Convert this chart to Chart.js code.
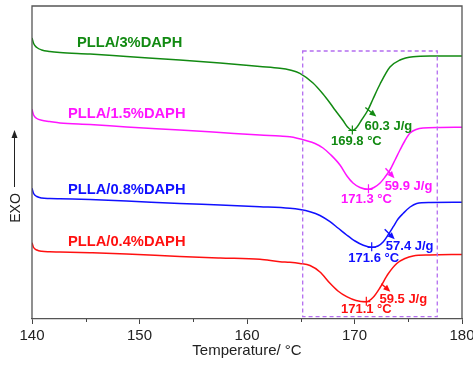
<!DOCTYPE html>
<html>
<head>
<meta charset="utf-8">
<script src="https://cdn.jsdelivr.net/npm/chart.js@4/dist/chart.umd.min.js"></script>
<style>
  html, body { margin: 0; padding: 0; background: #ffffff; }
  #wrap { width: 473px; height: 365px; }
</style>
</head>
<body>
<div id="wrap"><canvas id="dscChart" width="473" height="365"></canvas></div>
<script>
/* ---------------------------------------------------------
   Data (heat flow in arbitrary units)
--------------------------------------------------------- */
const seriesNames = ["PLLA/3%DAPH", "PLLA/1.5%DAPH", "PLLA/0.8%DAPH", "PLLA/0.4%DAPH"];
const seriesColors = ["#128a12", "#ff14ff", "#1010ff", "#ff1010"];

const temp3 = [140.0, 140.15, 140.45, 140.9, 141.65, 142.6, 145.4, 148.8, 153.75, 157.5, 161.2, 163.06, 163.99, 164.92, 166.14, 167.07, 167.72, 168.19, 168.93, 169.35, 169.8, 170.2, 170.6, 171.25, 171.72, 172.38, 173.3, 174.23, 175.45, 177.03, 180.0];
const heat3 = [281, 275.5, 271.5, 269, 267.5, 266.5, 265, 262.5, 259, 256, 252.5, 250.7, 249, 245.7, 236, 225, 216, 209, 198.5, 192, 188.5, 191.5, 198, 209, 220, 235, 252, 259, 262.3, 263, 263];

const temp15 = [140.0, 140.15, 140.45, 140.9, 141.65, 142.6, 145.4, 148.8, 153.75, 157.5, 161.2, 163.06, 163.99, 165.55, 166.33, 167.07, 167.81, 168.65, 169.3, 169.86, 170.51, 171.3, 171.81, 172.38, 172.84, 173.3, 173.77, 174.23, 174.7, 175.17, 175.73, 176.38, 177.96, 180.0];
const heat15 = [209.7, 204, 200.5, 198.7, 197.5, 196, 194.5, 192, 189, 186.5, 184, 183, 182.3, 178.3, 175.5, 171, 164, 154, 143, 136, 131.5, 129.7, 131.5, 136, 142, 149, 159, 169, 178.5, 186, 189.5, 191, 191.5, 191.7];

const temp08 = [140.0, 140.15, 140.45, 140.9, 141.65, 142.6, 145.4, 148.8, 153.75, 157.5, 161.2, 163.99, 164.92, 165.86, 166.79, 167.72, 168.46, 169.27, 170.05, 170.82, 171.6, 172.18, 172.68, 173.12, 173.61, 174.05, 174.54, 175.17, 175.79, 177.03, 180.0];
const heat08 = [130.7, 125.5, 122.5, 121, 120.5, 120.2, 119.5, 118, 115.5, 114, 112.3, 110.7, 109.5, 107.3, 103.5, 97.3, 91, 84, 78, 73.7, 71.7, 73, 77.3, 84, 92.3, 100, 105.7, 112, 115.5, 116.5, 116.7];

const temp04 = [140.0, 140.15, 140.45, 140.9, 141.65, 142.6, 145.4, 148.8, 153.75, 157.5, 161.2, 163.06, 163.99, 164.92, 165.86, 166.79, 167.72, 168.46, 169.27, 170.14, 171.1, 171.72, 172.38, 173.12, 173.93, 174.7, 175.45, 177.03, 180.0];
const heat04 = [76.3, 71.5, 69, 67.7, 67.2, 67, 66.2, 65, 62.5, 61, 59.7, 57.3, 56.7, 55.5, 53.5, 47, 35.7, 28, 22.3, 18.5, 17.3, 21.5, 31.5, 45, 55.5, 60.5, 63, 64, 64.5];

// peak temperature, peak value, enthalpy label
const peakTemps = [169.8, 171.3, 171.6, 171.1];
const peakHeats = [188.5, 129.7, 71.7, 17.3];
const enthalpyLabels = ["60.3 J/g", "59.9 J/g", "57.4 J/g", "59.5 J/g"];

// dashed box around the melting region
const boxTemps = [165.18, 177.7];
const boxHeats = [2.3, 268];

const xTicks = [140, 150, 160, 170, 180];
const xMinorTicks = [145, 155, 165, 175];

/* ---------------------------------------------------------
   Layout tweaks for annotations (pixel offsets from the peak)
--------------------------------------------------------- */
const labelSpots = [
  { left: 77, y: 42.7 },
  { left: 68, y: 113.5 },
  { left: 68, y: 190 },
  { left: 68, y: 241.7 },
];
const enthalpyOffsets = [[36, -4], [40, -3], [38, -1], [37, -2]];
const tempOffsets = [[4, 11], [-2, 10], [2, 11], [0, 8]];
const arrowOffsets = [[13, -23, 24, -14], [17, -21, 26, -11], [13, -18, 23, -8], [15, -18, 24, -10]];

const FONT = "'Liberation Sans', Arial, sans-serif";

const temps = [temp3, temp15, temp08, temp04];
const heats = [heat3, heat15, heat08, heat04];

const datasets = seriesNames.map((name, i) => ({
  label: name,
  data: temps[i].map((t, k) => ({ x: t, y: heats[i][k] })),
  borderColor: seriesColors[i],
  borderWidth: 1.5,
  pointRadius: 0,
  cubicInterpolationMode: "monotone",
  fill: false,
}));

/* ---------------------------------------------------------
   Plugin: frame, tick labels, box, labels, peak marks, arrows
--------------------------------------------------------- */
const dscDecor = {
  id: "dscDecor",
  afterDatasetsDraw(chart) {
    const { ctx, chartArea: a, scales: { x, y } } = chart;
    ctx.save();

    // frame (left, top, right); bottom is the x axis border
    ctx.strokeStyle = "#555555";
    ctx.lineWidth = 1.3;
    ctx.beginPath();
    ctx.moveTo(a.left, a.bottom);
    ctx.lineTo(a.left, a.top);
    ctx.lineTo(a.right, a.top);
    ctx.lineTo(a.right, a.bottom);
    ctx.stroke();

    // minor ticks
    ctx.lineWidth = 1;
    ctx.strokeStyle = "#444444";
    xMinorTicks.forEach((t) => {
      const px = Math.round(x.getPixelForValue(t)) + 0.5;
      ctx.beginPath();
      ctx.moveTo(px, a.bottom);
      ctx.lineTo(px, a.bottom + 3);
      ctx.stroke();
    });

    // tick labels (drawn here so the right edge is not pushed in)
    ctx.fillStyle = "#222222";
    ctx.font = `15px ${FONT}`;
    ctx.textAlign = "center";
    ctx.textBaseline = "middle";
    xTicks.forEach((t) => ctx.fillText(String(t), x.getPixelForValue(t), 336));

    // x axis title
    ctx.fillText("Temperature/ \u00b0C", (a.left + a.right) / 2, 351);

    // dashed box
    const bx0 = x.getPixelForValue(boxTemps[0]);
    const bx1 = x.getPixelForValue(boxTemps[1]);
    const by0 = y.getPixelForValue(boxHeats[1]);
    const by1 = y.getPixelForValue(boxHeats[0]);
    ctx.strokeStyle = "#b46ef0";
    ctx.lineWidth = 1.3;
    ctx.setLineDash([4, 3]);
    ctx.strokeRect(bx0, by0, bx1 - bx0, by1 - by0);
    ctx.setLineDash([]);

    seriesNames.forEach((name, i) => {
      const color = seriesColors[i];
      ctx.fillStyle = color;
      ctx.strokeStyle = color;

      // series label
      ctx.font = `bold 14.7px ${FONT}`;
      ctx.textAlign = "left";
      ctx.fillText(name, labelSpots[i].left, labelSpots[i].y);

      // peak cross
      const px = x.getPixelForValue(peakTemps[i]);
      const py = y.getPixelForValue(peakHeats[i]);
      ctx.lineWidth = 1.2;
      ctx.beginPath();
      ctx.moveTo(px - 4, py); ctx.lineTo(px + 4, py);
      ctx.moveTo(px, py - 5); ctx.lineTo(px, py + 4);
      ctx.stroke();

      // arrow across the rising flank
      const [ax0, ay0, ax1, ay1] = arrowOffsets[i];
      const sx = px + ax0, sy = py + ay0, ex = px + ax1, ey = py + ay1;
      const ang = Math.atan2(ey - sy, ex - sx);
      ctx.lineWidth = 1.4;
      ctx.beginPath();
      ctx.moveTo(sx, sy);
      ctx.lineTo(ex - 4 * Math.cos(ang), ey - 4 * Math.sin(ang));
      ctx.stroke();
      ctx.beginPath();
      ctx.moveTo(ex, ey);
      ctx.lineTo(ex - 7 * Math.cos(ang) + 3 * Math.sin(ang), ey - 7 * Math.sin(ang) - 3 * Math.cos(ang));
      ctx.lineTo(ex - 7 * Math.cos(ang) - 3 * Math.sin(ang), ey - 7 * Math.sin(ang) + 3 * Math.cos(ang));
      ctx.closePath();
      ctx.fill();

      // texts
      ctx.font = `bold 13px ${FONT}`;
      ctx.textAlign = "center";
      ctx.fillText(enthalpyLabels[i], px + enthalpyOffsets[i][0], py + enthalpyOffsets[i][1]);
      ctx.fillText(`${peakTemps[i].toFixed(1)} \u00b0C`, px + tempOffsets[i][0], py + tempOffsets[i][1]);
    });

    // EXO with arrow
    ctx.fillStyle = "#222222";
    ctx.save();
    ctx.translate(16, 208);
    ctx.rotate(-Math.PI / 2);
    ctx.font = `14px ${FONT}`;
    ctx.textAlign = "center";
    ctx.fillText("EXO", 0, 0);
    ctx.restore();
    ctx.strokeStyle = "#222222";
    ctx.lineWidth = 1;
    ctx.beginPath();
    ctx.moveTo(14.5, 187);
    ctx.lineTo(14.5, 136);
    ctx.stroke();
    ctx.beginPath();
    ctx.moveTo(14.5, 130);
    ctx.lineTo(11.5, 138);
    ctx.lineTo(17.5, 138);
    ctx.closePath();
    ctx.fill();

    ctx.restore();
  },
};

/* ---------------------------------------------------------
   Chart
--------------------------------------------------------- */
new Chart(document.getElementById("dscChart"), {
  type: "line",
  data: { datasets },
  options: {
    responsive: false,
    animation: false,
    layout: { padding: { left: 32, right: 11, top: 6, bottom: 41 } },
    plugins: { legend: { display: false }, tooltip: { enabled: false } },
    scales: {
      x: {
        type: "linear",
        min: 140,
        max: 180,
        afterBuildTicks: (scale) => { scale.ticks = xTicks.map((v) => ({ value: v })); },
        ticks: { display: false },
        grid: { drawOnChartArea: false, tickLength: 5, color: "#444444" },
        border: { color: "#555555", width: 1.3 },
      },
      y: {
        display: false,
        min: 0,
        max: 313,
      },
    },
  },
  plugins: [dscDecor],
});
</script>
</body>
</html>
